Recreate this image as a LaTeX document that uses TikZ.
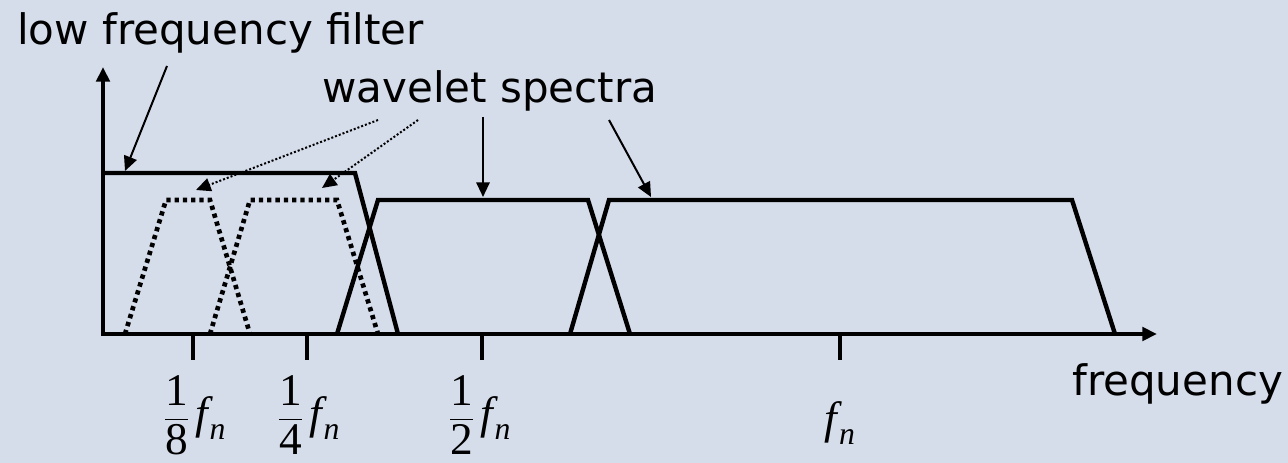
\documentclass[tikz,border=0pt]{standalone}
\usepackage{amsmath}
\usepackage{fontspec}
\setmainfont{DejaVu Sans}
\newfontfamily\tnr{Liberation Serif}
\usetikzlibrary{arrows.meta}
\definecolor{bgblue}{RGB}{213,220,234}
% tick label f_n, with or without a fraction in front
\newcommand{\fnsym}{{\text{\itshape f}\kern1.5pt}_{\text{\itshape n}}}
\newcommand{\fracfn}[1]{$\dfrac{\text{1}}{\text{#1}}\mkern3mu\fnsym$}

\begin{document}
\begin{tikzpicture}[x=0.75pt,y=-0.75pt,
    axis/.style={line width=3.5pt,{Triangle[length=11pt,width=10pt]}-{Triangle[length=11pt,width=10pt]}},
    band/.style={line width=3.3pt},
    wavelet/.style={line width=3.5pt,dash pattern=on 3.2pt off 3pt},
    tickmark/.style={line width=3.3pt},
    pointer/.style={line width=1.5pt,-{Triangle[length=11pt,width=10pt]}},
    dotpointer/.style={line width=1.5pt,dash pattern=on 1.5pt off 1.5pt,-{Triangle[length=11pt,width=10pt]}},
    labelnode/.style={font=\fontsize{31.5}{38}\selectfont,inner sep=0pt,anchor=base west},
    ticklabel/.style={font=\tnr\fontsize{34}{40}\selectfont,inner sep=0pt,anchor=base}]
% background
\fill[bgblue] (0,0) rectangle (1288,463);
\useasboundingbox (0,0) rectangle (1288,463);
% axes
\coordinate (origin) at (103,334);
\coordinate (ytip) at (103,67);
\coordinate (xtip) at (1157,334);
\draw[axis] (ytip) -- (origin) -- (xtip);
% ticks
\foreach \x in {193,307,482,840} {
    \draw[tickmark] (\x,334) -- (\x,360);
}
\node[ticklabel] (eighth) at (195,428) {\fracfn{8}};
\node[ticklabel] (quarter) at (309,428) {\fracfn{4}};
\node[ticklabel] (half) at (480,428) {\fracfn{2}};
\node[ticklabel] (full) at (840,433) {$\fnsym$};
% low frequency filter
\draw[band] (103,173) -- (355,173) -- (398,334);
% wavelet spectra
\draw[wavelet] (125,334) -- (166,200) -- (210,200) -- (250,334);
\draw[wavelet] (210,334) -- (250,200) -- (337,200) -- (378,334);
\draw[band] (337,334) -- (378,200) -- (588,200) -- (630,334);
\draw[band] (570,334) -- (609,200) -- (1072,200) -- (1115,334);
% labels
\node[labelnode] (lowlabel) at (17,45) {low frequency filter};
\node[labelnode] (wavelabel) at (322,103) {wavelet spectra};
\node[labelnode] (freqlabel) at (1072,395) {frequency};
% pointers
\coordinate (lowfrom) at (167,66);
\coordinate (lowto) at (125,171);
\coordinate (wavfromA) at (378,120);
\coordinate (wavtoA) at (196,190);
\coordinate (wavfromB) at (418,120);
\coordinate (wavtoB) at (322,188);
\coordinate (wavfromC) at (483,117);
\coordinate (wavtoC) at (483,197);
\coordinate (wavfromD) at (609,120);
\coordinate (wavtoD) at (651,197);
\draw[pointer] (lowfrom) -- (lowto);
\draw[dotpointer] (wavfromA) -- (wavtoA);
\draw[dotpointer] (wavfromB) -- (wavtoB);
\draw[pointer] (wavfromC) -- (wavtoC);
\draw[pointer] (wavfromD) -- (wavtoD);
\end{tikzpicture}
\end{document}
